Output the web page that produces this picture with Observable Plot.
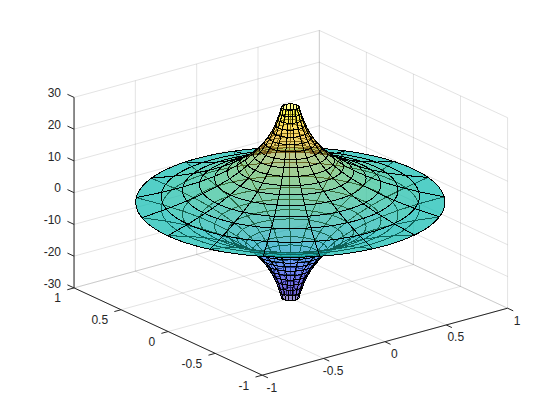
<!DOCTYPE html>
<html>
<head>
<meta charset="utf-8">
<style>html,body{margin:0;padding:0;background:#fff}svg{display:block}</style>
<script src="https://cdn.jsdelivr.net/npm/d3@7"></script>
<script src="https://cdn.jsdelivr.net/npm/@observablehq/plot@0.6"></script>
</head>
<body>
<script>
// Values
const xTicks = [-1, -0.5, 0, 0.5, 1];
const yTicks = [-1, -0.5, 0, 0.5, 1];
const zTicks = [-30, -20, -10, 0, 10, 20, 30];
const ringRadius = [1, 0.835, 0.697, 0.587, 0.49, 0.408, 0.344, 0.287, 0.24, 0.2, 0.167, 0.141, 0.117, 0.098, 0.082, 0.069, 0.057];
const ringHeight = [0, 1.9, 3.8, 5.6, 7.5, 9.4, 11.2, 13.1, 15, 16.9, 18.8, 20.6, 22.5, 24.4, 26.3, 28.1, 30];
const spokeAngle = [10.6, 31.8, 52.9, 74.1, 95.3, 116.5, 137.6, 158.8, 180, 201.2, 222.4, 243.5, 264.7, 285.9, 307.1, 328.2, 349.4, 370.6];
const parulaAt = [-30, -24, -18, -12, -6, 0, 6, 12, 18, 24, 30];
const parula = ["#3e26a8", "#4741e1", "#4070fb", "#2c98eb", "#1cade0", "#14bfb8", "#48cb86", "#98c64c", "#edb83b", "#fccf2d", "#f9fb15"];

// MATLAB default view(-37.5, 30) of the normalised box
const az = -37.5 * Math.PI / 180, el = 30 * Math.PI / 180;
const vx = (x, y) => x * Math.cos(az) + y * Math.sin(az);
const vy = (x, y, z) => Math.sin(el) * (-Math.sin(az) * x + Math.cos(az) * y) + Math.cos(el) * z / 30;

// quads of the surface: subdivided along each ring so rings read as smooth curves
const STEPS = 6;
function surface(sign) {
  const faces = [];
  for (let i = 0; i < ringRadius.length - 1; i++) {
    for (let j = 0; j < spokeAngle.length - 1; j++) {
      const t0 = spokeAngle[j], t1 = spokeAngle[j + 1];
      const rows = [];
      const level = sign * (ringHeight[i] + ringHeight[i + 1]) / 2;
      const tm = (t0 + t1) / 2 * Math.PI / 180, rm = (ringRadius[i] + ringRadius[i + 1]) / 2;
      const far = rm * (Math.sin(-az) * Math.cos(tm) + Math.cos(az) * Math.sin(tm));
      for (let s = 0; s <= STEPS; s++) {
        const t = (t0 + (t1 - t0) * s / STEPS) * Math.PI / 180;
        const c = Math.cos(t), n = Math.sin(t);
        const ra = ringRadius[i], rb = ringRadius[i + 1];
        const za = sign * ringHeight[i], zb = sign * ringHeight[i + 1];
        rows.push({
          id: `${sign}-${i}-${j}`, level,
          x1: vx(ra * c, ra * n), y1: vy(ra * c, ra * n, za),
          x2: vx(rb * c, rb * n), y2: vy(rb * c, rb * n, zb)
        });
      }
      faces.push({far, rows});
    }
  }
  faces.sort((a, b) => b.far - a.far);
  return faces.flatMap(f => f.rows);
}
const lower = surface(-1), upper = surface(1);

const seg = (a, b) => ({x1: vx(a[0], a[1]), y1: vy(a[0], a[1], a[2]), x2: vx(b[0], b[1]), y2: vy(b[0], b[1], b[2])});

const grid = [
  ...xTicks.flatMap(x => [seg([x, -1, -30], [x, 1, -30]), seg([x, 1, -30], [x, 1, 30])]),
  ...yTicks.flatMap(y => [seg([-1, y, -30], [1, y, -30]), seg([1, y, -30], [1, y, 30])]),
  ...zTicks.flatMap(z => [seg([-1, 1, z], [1, 1, z]), seg([1, 1, z], [1, -1, z])])
];
const axes = [
  seg([-1, 1, -30], [-1, 1, 30]),
  seg([-1, 1, -30], [-1, -1, -30]),
  seg([-1, -1, -30], [1, -1, -30]),
  ...zTicks.map(z => seg([-1, 1, z], [-1, 1.07, z])),
  ...yTicks.map(y => seg([-1, y, -30], [-1.055, y, -30])),
  ...xTicks.map(x => seg([x, -1, -30], [x, -1.06, -30]))
];

const ink = "#262626", font = "Liberation Sans, Arial, sans-serif";
const label = (rows, extra) => Plot.text(rows, {x: "x", y: "y", text: "t", fill: ink, fontSize: 12, fontFamily: font, lineAnchor: "middle", ...extra});
const faceOptions = {x1: "x1", y1: "y1", x2: "x2", y2: "y2", z: "id", fill: "level", stroke: "#000", strokeWidth: 1, shapeRendering: "crispEdges"};

const chart = Plot.plot({
  width: 560, height: 420, margin: 0,
  style: {background: "#fff"},
  x: {axis: null, domain: [-290.3 / 154.6, 269.7 / 154.6]},
  y: {axis: null, domain: [-217.7 / 110, 202.3 / 110]},
  color: {type: "linear", domain: parulaAt, range: parula},
  marks: [
    Plot.link(grid, {x1: "x1", y1: "y1", x2: "x2", y2: "y2", stroke: ink, strokeOpacity: 0.13, strokeWidth: 1}),
    Plot.link(axes, {x1: "x1", y1: "y1", x2: "x2", y2: "y2", stroke: ink, strokeWidth: 1}),
    Plot.area(lower, {...faceOptions, fillOpacity: 0.5}),
    Plot.area(upper, {...faceOptions, fillOpacity: 0.5}),
    label(zTicks.map(z => ({x: vx(-1, 1), y: vy(-1, 1, z), t: String(z)})), {textAnchor: "end", dx: -13, dy: -4}),
    label(yTicks.map(v => ({x: vx(-1, v), y: vy(-1, v, -30), t: String(v)})), {textAnchor: "end", dx: -13, dy: 10.5}),
    label(xTicks.map(v => ({x: vx(v, -1), y: vy(v, -1, -30), t: String(v)})), {textAnchor: "middle", dx: 9.5, dy: 12.5})
  ]
});
document.body.appendChild(chart);
</script>
</body>
</html>
